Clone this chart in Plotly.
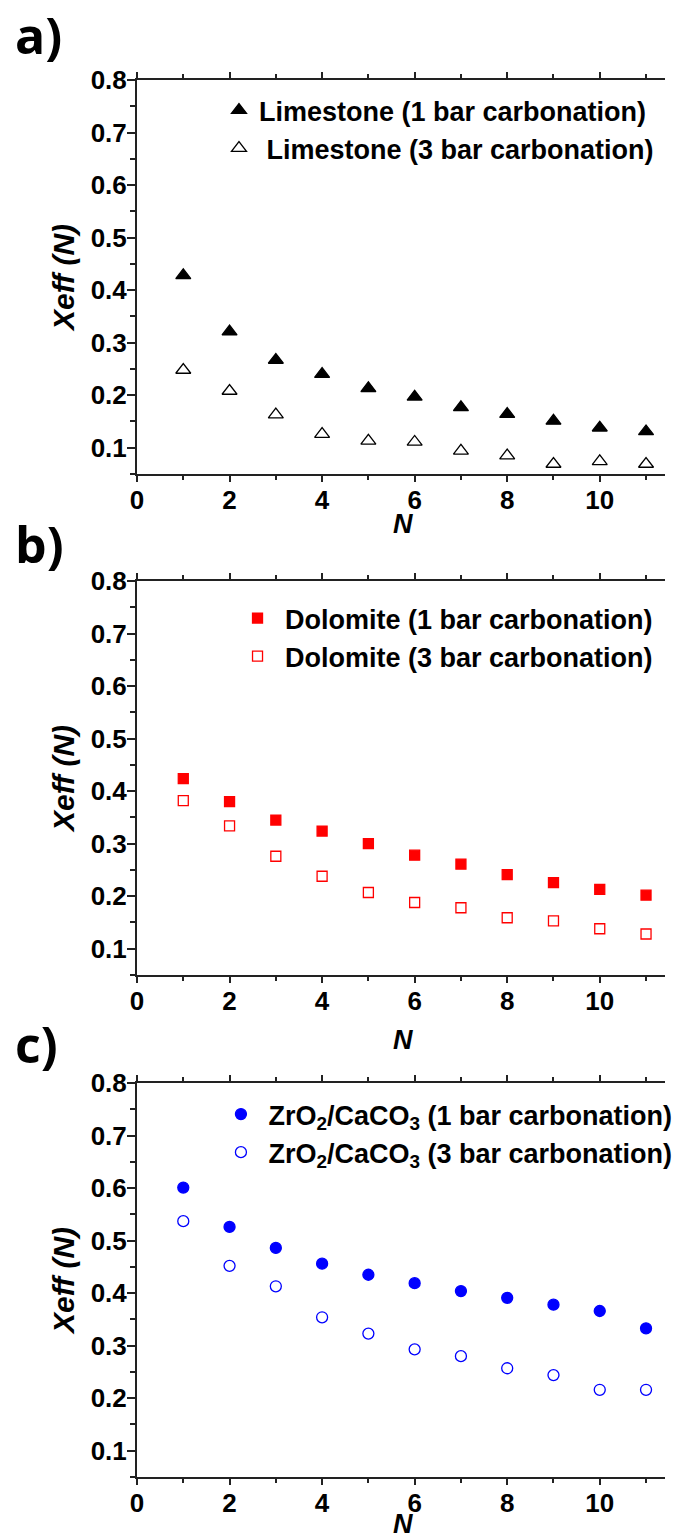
import plotly.graph_objects as go

# ---------------- data ----------------
N = list(range(1, 12))
limestone_1bar = [0.428, 0.321, 0.267, 0.240, 0.213, 0.197, 0.177, 0.164, 0.151, 0.138, 0.131]
limestone_3bar = [0.248, 0.208, 0.163, 0.126, 0.113, 0.111, 0.094, 0.085, 0.069, 0.074, 0.069]
dolomite_1bar = [0.424, 0.380, 0.345, 0.324, 0.300, 0.278, 0.261, 0.241, 0.226, 0.213, 0.202]
dolomite_3bar = [0.382, 0.334, 0.276, 0.238, 0.207, 0.188, 0.178, 0.159, 0.153, 0.138, 0.128]
zro2_1bar = [0.601, 0.526, 0.486, 0.456, 0.435, 0.419, 0.404, 0.391, 0.378, 0.366, 0.333]
zro2_3bar = [0.537, 0.452, 0.413, 0.354, 0.323, 0.293, 0.280, 0.257, 0.244, 0.216, 0.216]

names_a = ["Limestone (1 bar carbonation)", "\u00a0Limestone (3 bar carbonation)"]
names_b = ["\u00a0Dolomite (1 bar carbonation)", "\u00a0Dolomite (3 bar carbonation)"]
names_c = ["\u00a0ZrO<sub>2</sub>/CaCO<sub>3</sub> (1 bar carbonation)",
           "\u00a0ZrO<sub>2</sub>/CaCO<sub>3</sub> (3 bar carbonation)"]
panel_labels = ["a)", "b)", "c)"]
x_title = "N"
y_title = "Xeff (N)"

# ---------------- layout geometry ----------------
W, H = 678, 1540
ML, MR, MT, MB = 137, 0, 80, 63
PW, PH = W - ML - MR, H - MT - MB


def yp(px):
    return 1 - (px - MT) / PH


def xp(px):
    return (px - ML) / PW


FONT = "Liberation Sans, Arial, sans-serif"
tickfont = dict(family=FONT, size=26, color="black", weight="bold")
xtitlefont = dict(family=FONT, size=27, color="black", weight="bold", style="italic")
ytitlefont = dict(family=FONT, size=30, color="black", weight="bold", style="italic")
legfont = dict(family=FONT, size=27, color="black", weight="bold")
AX = "#222222"

fig = go.Figure()

BLACK, RED, BLUE = "black", "#ff0000", "#0000ff"

series = [
    (limestone_1bar, names_a[0], "triangle-up", BLACK, 13, "x", "y", "legend"),
    (limestone_3bar, names_a[1], "triangle-up-open", BLACK, 13, "x", "y", "legend"),
    (dolomite_1bar, names_b[0], "square", RED, 10, "x2", "y2", "legend2"),
    (dolomite_3bar, names_b[1], "square-open", RED, 10, "x2", "y2", "legend2"),
    (zro2_1bar, names_c[0], "circle", BLUE, 11, "x3", "y3", "legend3"),
    (zro2_3bar, names_c[1], "circle-open", BLUE, 11, "x3", "y3", "legend3"),
]
for i, (vals, name, sym, col, sz, xa, ya, leg) in enumerate(series):
    fig.add_trace(go.Scatter(
        x=N, y=vals, mode="markers", name=name,
        marker=dict(symbol=sym, color=col, size=sz, line=dict(color=col, width=1.3)),
        xaxis=xa, yaxis=ya, legend=leg, legendgroup=f"g{i}",
    ))

domains = [
    [yp(474), yp(80)],
    [yp(975), yp(581)],
    [yp(1477), yp(1083)],
]


def xaxis_cfg(i):
    return dict(
        domain=[0, 1], range=[0, 11.41], tick0=0, dtick=2,
        ticks="outside", ticklen=6, tickwidth=2, tickcolor=AX,
        showline=True, linewidth=2, linecolor=AX, mirror="ticks",
        showgrid=False, zeroline=False,
        minor=dict(dtick=1, tick0=0, ticks="outside", ticklen=4, tickwidth=1.5, tickcolor=AX, showgrid=False),
        tickfont=tickfont, automargin=False, ticklabelstandoff=-4,
        anchor="y" if i == 0 else f"y{i+1}",
    )


def yaxis_cfg(i):
    return dict(
        domain=domains[i], range=[0.05, 0.8], tick0=0, dtick=0.1, tickformat=".1f",
        ticks="outside", ticklen=8, tickwidth=2, tickcolor=AX,
        showline=True, linewidth=2, linecolor=AX, mirror=False,
        showgrid=False, zeroline=False,
        minor=dict(dtick=0.05, tick0=0, ticks="outside", ticklen=5, tickwidth=1.5, tickcolor=AX, showgrid=False),
        tickfont=tickfont, automargin=False, ticklabelstandoff=-5,
        anchor="x" if i == 0 else f"x{i+1}",
        title=dict(text=y_title, font=ytitlefont, standoff=7),
    )


layout = dict(
    width=W, height=H,
    margin=dict(l=ML, r=MR, t=MT, b=MB, pad=0),
    paper_bgcolor="white", plot_bgcolor="white",
    showlegend=True,
)
for i in range(3):
    layout["xaxis" if i == 0 else f"xaxis{i+1}"] = xaxis_cfg(i)
    layout["yaxis" if i == 0 else f"yaxis{i+1}"] = yaxis_cfg(i)

leg_common = dict(font=legfont, bgcolor="rgba(0,0,0,0)", borderwidth=0,
                  xanchor="left", yanchor="top", tracegroupgap=0, itemsizing="trace")
layout["legend"] = dict(leg_common, x=xp(221), y=yp(86))
layout["legend2"] = dict(leg_common, x=xp(240), y=yp(594))
layout["legend3"] = dict(leg_common, x=xp(223), y=yp(1090))

fig.update_layout(**layout)

# x-axis titles (N) under each panel
for ypx in [524, 1040, 1524]:
    fig.add_annotation(
        text=x_title, xref="paper", yref="paper", x=xp(410), y=yp(ypx),
        xanchor="center", yanchor="middle", showarrow=False, font=xtitlefont,
    )

label_y = [35, 544, 1044]
for lab, ypx in zip(panel_labels, label_y):
    fig.add_annotation(
        text=lab, xref="paper", yref="paper", x=xp(10), y=yp(ypx),
        xanchor="left", yanchor="middle", showarrow=False,
        font=dict(family="Open Sans, Lato, sans-serif", size=50, color="black", weight="bold"),
    )

fig.write_html(
    "out.html",
    config={"displayModeBar": False},
    post_script="document.body.style.margin='0';document.body.style.overflow='hidden';",
)
